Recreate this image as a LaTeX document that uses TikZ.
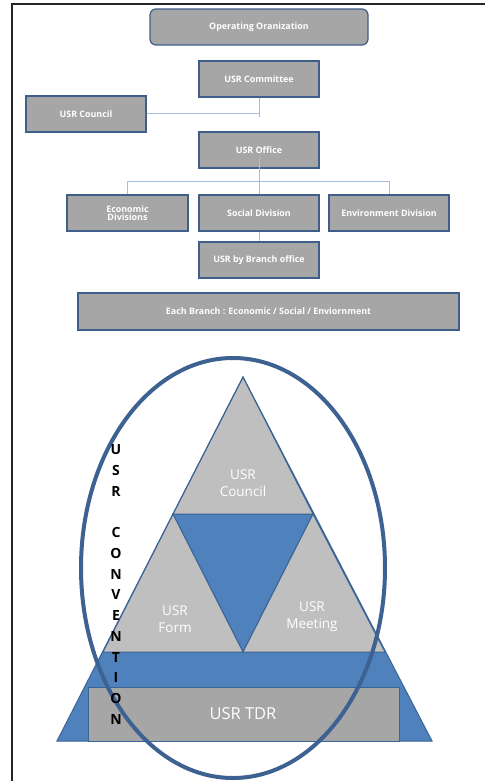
\documentclass[tikz,border=0pt]{standalone}
\usepackage{fontspec}
\setmainfont{Open Sans}
\definecolor{boxfill}{HTML}{A6A6A6}
\definecolor{boxline}{HTML}{3F5F8A}
\definecolor{connc}{HTML}{A3BDE0}
\definecolor{trigray}{HTML}{BFBFBF}
\definecolor{triblue}{HTML}{4F81BD}
\definecolor{triline}{HTML}{3A6496}
\definecolor{ellc}{HTML}{3D6291}
\tikzset{
  orgbox/.style={draw=boxline, line width=1.2pt, fill=boxfill, text=white, font=\bfseries\fontsize{8.9}{10}\selectfont, inner sep=0pt, align=center},
  conn/.style={draw=connc, line width=1pt},
  pyr/.style={draw=triline, line width=1pt, line join=miter},
  pyrtext/.style={text=white, font=\fontsize{13.5}{17}\selectfont, align=center},
  vlet/.style={text=black, font=\bfseries\fontsize{14}{14}\selectfont, inner sep=0pt}
}
\begin{document}
\begin{tikzpicture}[x=1pt,y=-1pt]
\useasboundingbox[fill=white] (0,0) rectangle (485,781);
% frame
\draw[black!85, line width=1.2pt] (12,781) -- (12,4) -- (485,4);

% org chart
\node[orgbox, rounded corners=6pt, minimum width=218pt, minimum height=36pt] (opor) at (259,27) {Operating Oranization};
\node[orgbox, minimum width=120pt, minimum height=36pt] (comm) at (259,79) {USR Committee};
\node[orgbox, minimum width=120pt, minimum height=36pt] (council) at (86,114) {USR Council};
\node[orgbox, minimum width=120pt, minimum height=36pt] (office) at (259,150) {USR Office};
\node[orgbox, minimum width=121pt, minimum height=36pt] (econ) at (127.5,213) {Economic\\[-1.5pt]Divisions};
\node[orgbox, minimum width=120pt, minimum height=36pt] (social) at (259,213) {Social Division};
\node[orgbox, minimum width=120pt, minimum height=36pt] (env) at (389,213) {Environment Division};
\node[orgbox, minimum width=120pt, minimum height=36pt] (branch) at (259,260) {USR by Branch office};
\node[orgbox, minimum width=381pt, minimum height=37pt] (each) at (268.5,311.5) {Each Branch : Economic / Social / Enviornment};

\coordinate (cend) at (259,117);
\coordinate (bus) at (259,182);
\draw[conn] (council.east) -- (council.east -| cend);
\draw[conn] (comm.south) -- (cend);
\draw[conn] ([yshift=-6pt]office.center) -- (bus);
\draw[conn] (econ.north) -- ++(0,-13) -| (env.north);
\draw[conn] (bus) -- (social.north);
\draw[conn] (social.south) -- (branch.north);

% pyramid
\fill[triblue] (57,741) -- (243,377) -- (432,741) -- cycle;
\draw[pyr, fill=triblue] (173,514) -- (313,514) -- (243,652) -- cycle;
\draw[pyr, fill=trigray] (173,514) -- (243,377) -- (313,514) -- cycle;
\draw[pyr, fill=trigray] (103,652) -- (173,514) -- (243,652) -- cycle;
\draw[pyr, fill=trigray] (243,652) -- (313,514) -- (385,652) -- cycle;
\draw[pyr] (57,741) -- (243,377) -- (432,741) -- cycle;
\draw[pyr, fill=boxfill] (88,687) rectangle (399,741);

\node[pyrtext] (tcouncil) at (243,483) {USR\\Council};
\node[pyrtext] (tform) at (175,619) {USR\\Form};
\node[pyrtext] (tmeet) at (312,617) {USR\\Meeting};
\node[pyrtext, font=\fontsize{16.5}{18}\selectfont] (ttdr) at (243,714) {USR TDR};

% ellipse
\draw[ellc, line width=4pt] (233,568) ellipse [x radius=152, y radius=210];

% vertical text
\foreach \l/\k [count=\i] in {U/0,S/1,R/2,C/4,O/5,N/6,V/7,E/8,N/9,T/10,I/11,O/12,N/13}{
  \node[vlet] (v\i) at (116,{450+20.7*\k}) {\l};
}
\end{tikzpicture}
\end{document}
